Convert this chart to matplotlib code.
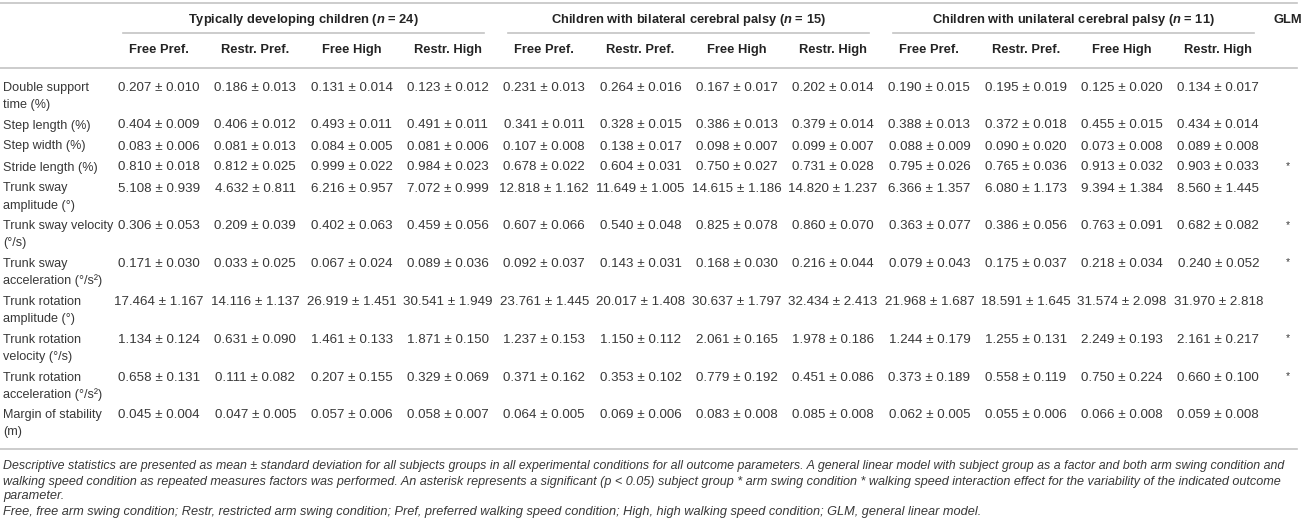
import matplotlib
matplotlib.use('Agg')
import matplotlib.pyplot as plt

plt.rcParams['font.family'] = ['Liberation Sans', 'DejaVu Sans']
plt.rcParams['mathtext.fontset'] = 'custom'
plt.rcParams['mathtext.it'] = 'Liberation Sans:italic:bold'

# table content
groups = ['Typically developing children ($n$ = 24)',
          'Children with bilateral cerebral palsy ($n$ = 15)',
          'Children with unilateral cerebral palsy ($n$ = 11)']
conditions = ['Free Pref.', 'Restr. Pref.', 'Free High', 'Restr. High']
params = ['Double support\ntime (%)', 'Step length (%)', 'Step width (%)', 'Stride length (%)',
          'Trunk sway\namplitude (°)', 'Trunk sway velocity\n(°/s)', 'Trunk sway\nacceleration (°/s²)',
          'Trunk rotation\namplitude (°)', 'Trunk rotation\nvelocity (°/s)',
          'Trunk rotation\nacceleration (°/s²)', 'Margin of stability\n(m)']

td_mean = [[0.207, 0.186, 0.131, 0.123], [0.404, 0.406, 0.493, 0.491], [0.083, 0.081, 0.084, 0.081],
           [0.810, 0.812, 0.999, 0.984], [5.108, 4.632, 6.216, 7.072], [0.306, 0.209, 0.402, 0.459],
           [0.171, 0.033, 0.067, 0.089], [17.464, 14.116, 26.919, 30.541], [1.134, 0.631, 1.461, 1.871],
           [0.658, 0.111, 0.207, 0.329], [0.045, 0.047, 0.057, 0.058]]
td_sd = [[0.010, 0.013, 0.014, 0.012], [0.009, 0.012, 0.011, 0.011], [0.006, 0.013, 0.005, 0.006],
         [0.018, 0.025, 0.022, 0.023], [0.939, 0.811, 0.957, 0.999], [0.053, 0.039, 0.063, 0.056],
         [0.030, 0.025, 0.024, 0.036], [1.167, 1.137, 1.451, 1.949], [0.124, 0.090, 0.133, 0.150],
         [0.131, 0.082, 0.155, 0.069], [0.004, 0.005, 0.006, 0.007]]

bcp_mean = [[0.231, 0.264, 0.167, 0.202], [0.341, 0.328, 0.386, 0.379], [0.107, 0.138, 0.098, 0.099],
            [0.678, 0.604, 0.750, 0.731], [12.818, 11.649, 14.615, 14.820], [0.607, 0.540, 0.825, 0.860],
            [0.092, 0.143, 0.168, 0.216], [23.761, 20.017, 30.637, 32.434], [1.237, 1.150, 2.061, 1.978],
            [0.371, 0.353, 0.779, 0.451], [0.064, 0.069, 0.083, 0.085]]
bcp_sd = [[0.013, 0.016, 0.017, 0.014], [0.011, 0.015, 0.013, 0.014], [0.008, 0.017, 0.007, 0.007],
          [0.022, 0.031, 0.027, 0.028], [1.162, 1.005, 1.186, 1.237], [0.066, 0.048, 0.078, 0.070],
          [0.037, 0.031, 0.030, 0.044], [1.445, 1.408, 1.797, 2.413], [0.153, 0.112, 0.165, 0.186],
          [0.162, 0.102, 0.192, 0.086], [0.005, 0.006, 0.008, 0.008]]

ucp_mean = [[0.190, 0.195, 0.125, 0.134], [0.388, 0.372, 0.455, 0.434], [0.088, 0.090, 0.073, 0.089],
            [0.795, 0.765, 0.913, 0.903], [6.366, 6.080, 9.394, 8.560], [0.363, 0.386, 0.763, 0.682],
            [0.079, 0.175, 0.218, 0.240], [21.968, 18.591, 31.574, 31.970], [1.244, 1.255, 2.249, 2.161],
            [0.373, 0.558, 0.750, 0.660], [0.062, 0.055, 0.066, 0.059]]
ucp_sd = [[0.015, 0.019, 0.020, 0.017], [0.013, 0.018, 0.015, 0.014], [0.009, 0.020, 0.008, 0.008],
          [0.026, 0.036, 0.032, 0.033], [1.357, 1.173, 1.384, 1.445], [0.077, 0.056, 0.091, 0.082],
          [0.043, 0.037, 0.034, 0.052], [1.687, 1.645, 2.098, 2.818], [0.179, 0.131, 0.193, 0.217],
          [0.189, 0.119, 0.224, 0.100], [0.005, 0.006, 0.008, 0.008]]

glm = ['', '', '', '*', '', '*', '*', '', '*', '*', '']

notes = ['Descriptive statistics are presented as mean ± standard deviation for all subjects groups in all '
         'experimental conditions for all outcome parameters. A general linear model with subject group as a '
         'factor and both arm swing condition and',
         'walking speed condition as repeated measures factors was performed. An asterisk represents a '
         'significant (p < 0.05) subject group * arm swing condition * walking speed interaction effect for '
         'the variability of the indicated outcome',
         'parameter.',
         'Free, free arm swing condition; Restr, restricted arm swing condition; Pref, preferred walking speed '
         'condition; High, high walking speed condition; GLM, general linear model.']

W, H = 1303, 527
fig = plt.figure(figsize=(W / 100, H / 100), dpi=100)
ax = fig.add_axes([0, 0, 1, 1])
ax.set_xlim(0, W)
ax.set_ylim(H, 0)
ax.axis('off')

fs = 9.6      # numbers
lfs = 9.1     # row labels
hfs = 9.3     # bold headers
txt = '#383838'
hdr = '#242424'
rule = '#c4c4c4'
bl = 4.7      # offset from text middle to baseline, pixels

col_x0, col_dx = 159, 96.3
glm_x = 1288

# rules
ax.plot([0, 1297], [3, 3], color=rule, lw=1.2)
ax.plot([0, 1297], [68, 68], color=rule, lw=1.2)
ax.plot([0, 1297], [449, 449], color=rule, lw=1.2)

for g, name in enumerate(groups):
    xs = [col_x0 + col_dx * (4 * g + k) for k in range(4)]
    ax.text((xs[0] + xs[3]) / 2, 18 + bl, name, ha='center', va='baseline', fontsize=hfs,
            fontweight='bold', color=hdr)
    ax.plot([xs[0] - 36, xs[3] + 36], [33, 33], color=rule, lw=1.2)
    for k, c in enumerate(conditions):
        ax.text(xs[k], 48.5 + bl, c, ha='center', va='baseline', fontsize=hfs, fontweight='bold', color=hdr)
ax.text(glm_x, 18 + bl, 'GLM', ha='center', va='baseline', fontsize=hfs, fontweight='bold', color=hdr)

means = [td_mean, bcp_mean, ucp_mean]
sds = [td_sd, bcp_sd, ucp_sd]
y = 86
for i, p in enumerate(params):
    for n, part in enumerate(p.split('\n')):
        ax.text(3, y + 17 * n + bl, part, ha='left', va='baseline', fontsize=lfs, color=txt)
    for g in range(3):
        for k in range(4):
            x = col_x0 + col_dx * (4 * g + k)
            ax.text(x, y + bl, f'{means[g][i][k]:.3f} ± {sds[g][i][k]:.3f}', ha='center', va='baseline',
                    fontsize=fs, color=txt)
    if glm[i]:
        ax.text(glm_x, y + 3, glm[i], ha='center', va='baseline', fontsize=7.5, color=txt)
    y += 21 + 16.8 * p.count('\n')

# footnote; the first two lines are stretched to the rule width by a small font tweak
fig.canvas.draw()
rend = fig.canvas.get_renderer()
note_y = [465, 480, 495, 510.5]
nfs = 9.2
for j, line in enumerate(notes):
    t = ax.text(3, note_y[j] + 4.5, line, ha='left', va='baseline', fontsize=nfs, style='italic', color=txt)
    if j < 2:
        w = t.get_window_extent(rend).width
        t.set_fontsize(min(max(nfs * 1283 / w, nfs * 0.92), nfs * 1.08))

fig.savefig('out.png', dpi=100)
